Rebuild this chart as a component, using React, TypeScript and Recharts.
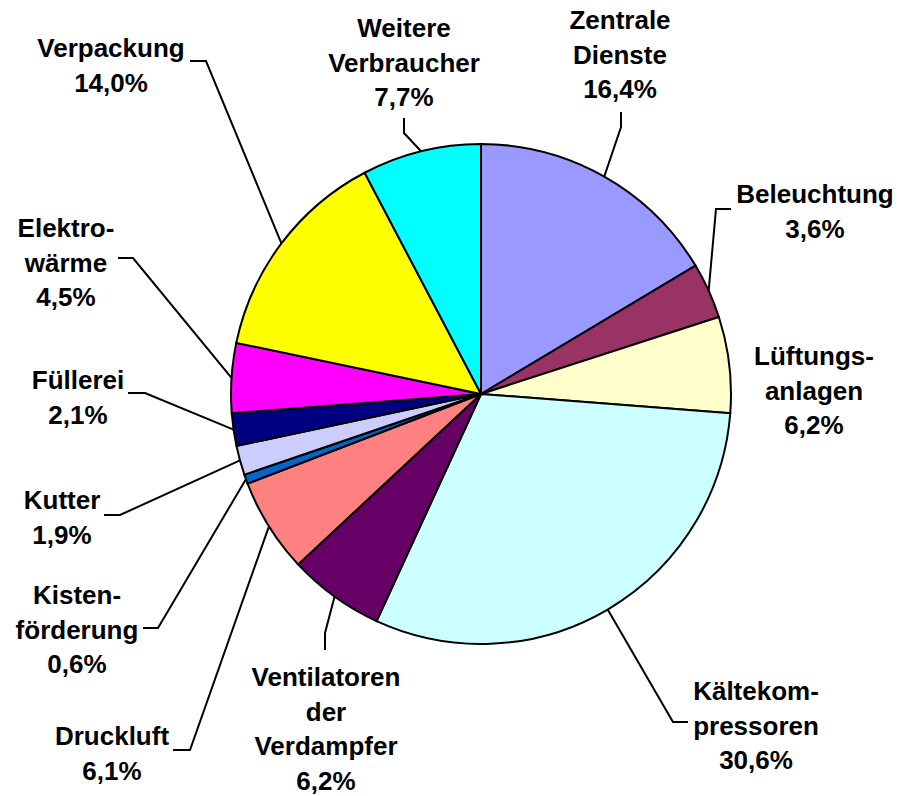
import { PieChart, Pie, Cell } from "recharts"

const categories = [
  "Zentrale\nDienste",
  "Beleuchtung",
  "Lüftungs-\nanlagen",
  "Kältekom-\npressoren",
  "Ventilatoren\nder\nVerdampfer",
  "Druckluft",
  "Kisten-\nförderung",
  "Kutter",
  "Füllerei",
  "Elektro-\nwärme",
  "Verpackung",
  "Weitere\nVerbraucher",
]

const shares = [16.4, 3.6, 6.2, 30.6, 6.2, 6.1, 0.6, 1.9, 2.1, 4.5, 14.0, 7.7]

const colors = [
  "#9999FF", "#993366", "#FFFFCC", "#CCFFFF", "#660066", "#FF8080",
  "#0066CC", "#CCCCFF", "#000080", "#FF00FF", "#FFFF00", "#00FFFF",
]

// label placement: text centre x, first baseline y, leader elbow + end (pixels)
const labelLayout: { x: number; y: number; leader: number[][] }[] = [
  { x: 620, y: 29, leader: [[621, 127], [621, 112]] },
  { x: 815, y: 203, leader: [[716, 209], [731, 209]] },
  { x: 814, y: 365, leader: [] },
  { x: 756, y: 700, leader: [[673, 722], [688, 722]] },
  { x: 326, y: 686, leader: [[325, 633], [325, 650]] },
  { x: 112, y: 745, leader: [[190, 750], [173, 750]] },
  { x: 77, y: 604, leader: [[158, 628], [143, 628]] },
  { x: 62, y: 509, leader: [[120, 515], [104, 515]] },
  { x: 78, y: 389, leader: [[145, 393], [128, 393]] },
  { x: 66, y: 237, leader: [[133, 258], [118, 258]] },
  { x: 111, y: 57, leader: [[206, 61], [190, 61]] },
  { x: 404, y: 37, leader: [[404, 133], [404, 118]] },
]

const data = categories.map((name, i) => ({ name, value: shares[i] }))

const RADIAN = Math.PI / 180
const LINE_H = 34.5

const fmt = (v: number) => v.toFixed(1).replace(".", ",") + "%"

function renderLabel(props: any) {
  const { cx, cy, midAngle, outerRadius, index, value } = props
  const layout = labelLayout[index]
  const sx = cx + Math.cos(-midAngle * RADIAN) * outerRadius
  const sy = cy + Math.sin(-midAngle * RADIAN) * outerRadius
  const lines = [...categories[index].split("\n"), fmt(value)]
  const pts = layout.leader.length
    ? [[sx, sy], ...layout.leader].map((p) => p.join(",")).join(" ")
    : null
  return (
    <g key={`lbl-${index}`}>
      {pts && <polyline points={pts} fill="none" stroke="#000" strokeWidth={2} />}
      <text
        x={layout.x}
        y={layout.y}
        textAnchor="middle"
        fill="#000"
        fontSize={26}
        fontWeight="bold"
        fontFamily="'Liberation Sans', Arial, sans-serif"
      >
        {lines.map((l, i) => (
          <tspan key={i} x={layout.x} y={layout.y + i * LINE_H}>
            {l}
          </tspan>
        ))}
      </text>
    </g>
  )
}

export default function App() {
  return (
    <div style={{ position: "absolute", left: 0, top: 0, width: 904, height: 796, background: "#fff" }}>
      <PieChart width={904} height={796} margin={{ top: 0, right: 0, bottom: 0, left: 0 }}>
        <Pie
          data={data}
          dataKey="value"
          nameKey="name"
          cx={481}
          cy={394}
          outerRadius={250}
          startAngle={90}
          endAngle={-270}
          stroke="#000"
          strokeWidth={2}
          label={renderLabel}
          labelLine={false}
          isAnimationActive={false}
        >
          {data.map((d, i) => (
            <Cell key={d.name} fill={colors[i]} />
          ))}
        </Pie>
      </PieChart>
    </div>
  )
}
